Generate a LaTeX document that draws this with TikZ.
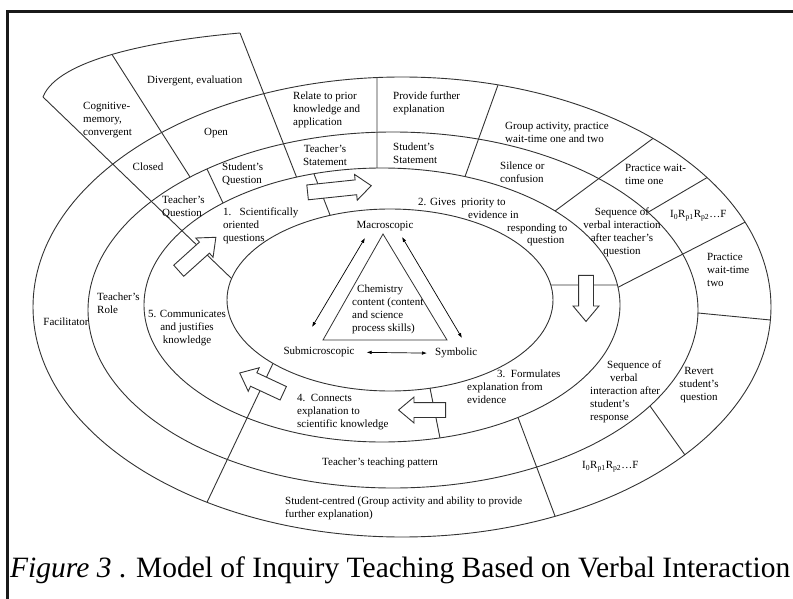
\documentclass[tikz,border=0pt]{standalone}
\usepackage{fontspec}
\setmainfont{Liberation Serif}
\usetikzlibrary{shapes.arrows,arrows.meta}
\newcommand{\irf}{I\textsubscript{0}R\textsubscript{p1}R\textsubscript{p2}\ldots F}

\begin{document}
\begin{tikzpicture}[x=1pt,y=-1pt,
  ring/.style={line width=0.9pt, black!80},
  lbl/.style={inner sep=0pt, align=left, font=\fontsize{11}{12.8}\selectfont},
  stepArrow/.style={single arrow, draw=black!80, line width=0.9pt, fill=white,
    inner xsep=0pt, inner ysep=7pt, minimum width=0pt,
    single arrow head extend=5.5pt, single arrow tip angle=80},
  both/.style={<->, >={Latex[length=5pt,width=3.6pt]}, line width=0.7pt}]
\useasboundingbox (0,0) rectangle (793,599);
\draw[line width=2.7pt, black!90] (7.3,599) |- (793,11.3);
% rings
\draw[ring] (390,300) ellipse [x radius=163, y radius=91];
\draw[ring] (382,305) ellipse [x radius=238, y radius=137];
\draw[ring] (393,310) ellipse [x radius=305, y radius=178];
\draw[ring] (402,307) ellipse [x radius=369, y radius=230];
\draw[ring] (43,97) .. controls (58,58) and (160,40) .. (240,33);
% dividers
\draw[ring] (43,97) -- (231,278)  (112,54.5) -- (190,177)  (240,33) -- (296.5,177)
  (207,169) -- (223,203)  (314,174) -- (330,215)  (377,77.5) -- (377,168)
  (498,85) -- (465,176.6)  (555,211) -- (653,138.4)  (648,212.3) -- (707,177.6)
  (618,287.3) -- (745,222.2)  (698,313) -- (770.4,320)  (650,406) -- (685,455)
  (518,417.4) -- (555,516)  (430,388) -- (440,438)  (273,363.4) -- (207,502.3)
  (550.8,285) -- (617.5,285);
% inquiry arrows
\node[stepArrow, minimum height=50pt, rotate=42]  (a51) at (194,257) {};
\node[stepArrow, minimum height=64pt, rotate=6]   (a12) at (335,189.5) {};
\node[stepArrow, minimum height=46pt, rotate=-90] (a23) at (586,294) {};
\node[stepArrow, minimum height=47pt, rotate=180] (a34) at (426.5,410) {};
\node[stepArrow, minimum height=48pt, rotate=155] (a45) at (265.5,385) {};
% outer labels
\node[lbl, anchor=north west] (cogmem) at (83,102) {Cognitive-\\memory,\\convergent};
\node[lbl, anchor=north west] (diverg) at (147,76) {Divergent, evaluation};
\node[lbl, anchor=north] (open) at (216,128) {Open};
\node[lbl, anchor=north] (closed) at (148,163) {Closed};
\node[lbl, anchor=north west] (relate) at (293,92) {Relate to prior\\knowledge and\\application};
\node[lbl, anchor=north west] (provide) at (393,92) {Provide further\\explanation};
\node[lbl, anchor=north, align=center] (tstate) at (325,145) {Teacher's\\Statement};
\node[lbl, anchor=north west] (sstate) at (393,143) {Student's\\Statement};
\node[lbl, anchor=north west] (squest) at (222,163) {Student's\\Question};
\node[lbl, anchor=north west] (tquest) at (162,196) {Teacher's\\Question};
\node[lbl, anchor=north west] (group) at (505,122) {Group activity, practice\\wait-time one and two};
\node[lbl, anchor=north west] (silence) at (500,162) {Silence or\\confusion};
\node[lbl, anchor=north west] (wait1) at (625,164) {Practice wait-\\time one};
\node[lbl, anchor=north west] (irf1) at (670,210) {\irf};
\node[lbl, anchor=north west] (wait2) at (707,253) {Practice\\wait-time\\two};
\node[lbl, anchor=north, align=center] (seqt) at (622,208) {Sequence of\\verbal interaction\\after teacher's\\question};
\node[lbl, anchor=north west] (seqs) at (590,361) {\hspace*{17pt}Sequence of\\\hspace*{20pt}verbal\\interaction after\\student's\\response};
\node[lbl, anchor=north, align=center] (revert) at (699,367) {Revert\\student's\\question};
\node[lbl, anchor=north west] (irf2) at (582,461) {\irf};
\node[lbl, anchor=north west] (teachpat) at (322,458) {Teacher's teaching pattern};
\node[lbl, anchor=north west] (studc) at (285,497) {Student-centred (Group activity and ability to provide\\further explanation)};
\node[lbl, anchor=north west] (trole) at (97,293) {Teacher's\\Role};
\node[lbl, anchor=north] (facil) at (66,318) {Facilitator};
% inquiry steps
\node[lbl, anchor=north west] (step1) at (223,208) {1.\ \ \ Scientifically\\oriented\\questions};
\node[lbl, anchor=north west] (step2) at (418,198) {2. Gives\ \ priority to\\\hspace*{50pt}evidence in\\\hspace*{89pt}responding to\\\hspace*{109pt}question};
\node[lbl, anchor=north west] (step3) at (467,370) {\hspace*{30pt}3.\ \ Formulates\\explanation from\\evidence};
\node[lbl, anchor=north west] (step4) at (297,394) {4.\ \ Connects\\explanation to\\scientific knowledge};
\node[lbl, anchor=north, align=center] (step5) at (187,310) {5. Communicates\\and justifies\\knowledge};
% chemistry triangle
\node[lbl, anchor=north west] (chem) at (352,285) {\hspace*{5pt}Chemistry\\content (content\\and science\\process skills)};
\node[lbl, anchor=north] (macro) at (385,221) {Macroscopic};
\node[lbl, anchor=north] (submicro) at (319,347) {Submicroscopic};
\node[lbl, anchor=north west] (symb) at (435,348) {Symbolic};
\draw[line width=0.8pt, black!80] (383,234) -- (323,340) -- (447,340) -- cycle;
\coordinate (mL) at (365,238); \coordinate (sL) at (312,327);
\coordinate (mR) at (402,237); \coordinate (yR) at (462,338);
\draw[both] (sL) -- (mL);
\draw[both] (mR) -- (yR);
\draw[both, shorten <=12pt, shorten >=8pt] (submicro.east) -- (symb.west);
% caption
\node[anchor=base west, inner sep=0pt, font=\fontsize{29.5}{32}\selectfont] (cap) at (10,577)
  {\textit{Figure 3} . Model of Inquiry Teaching Based on Verbal Interaction};
\end{tikzpicture}
\end{document}
